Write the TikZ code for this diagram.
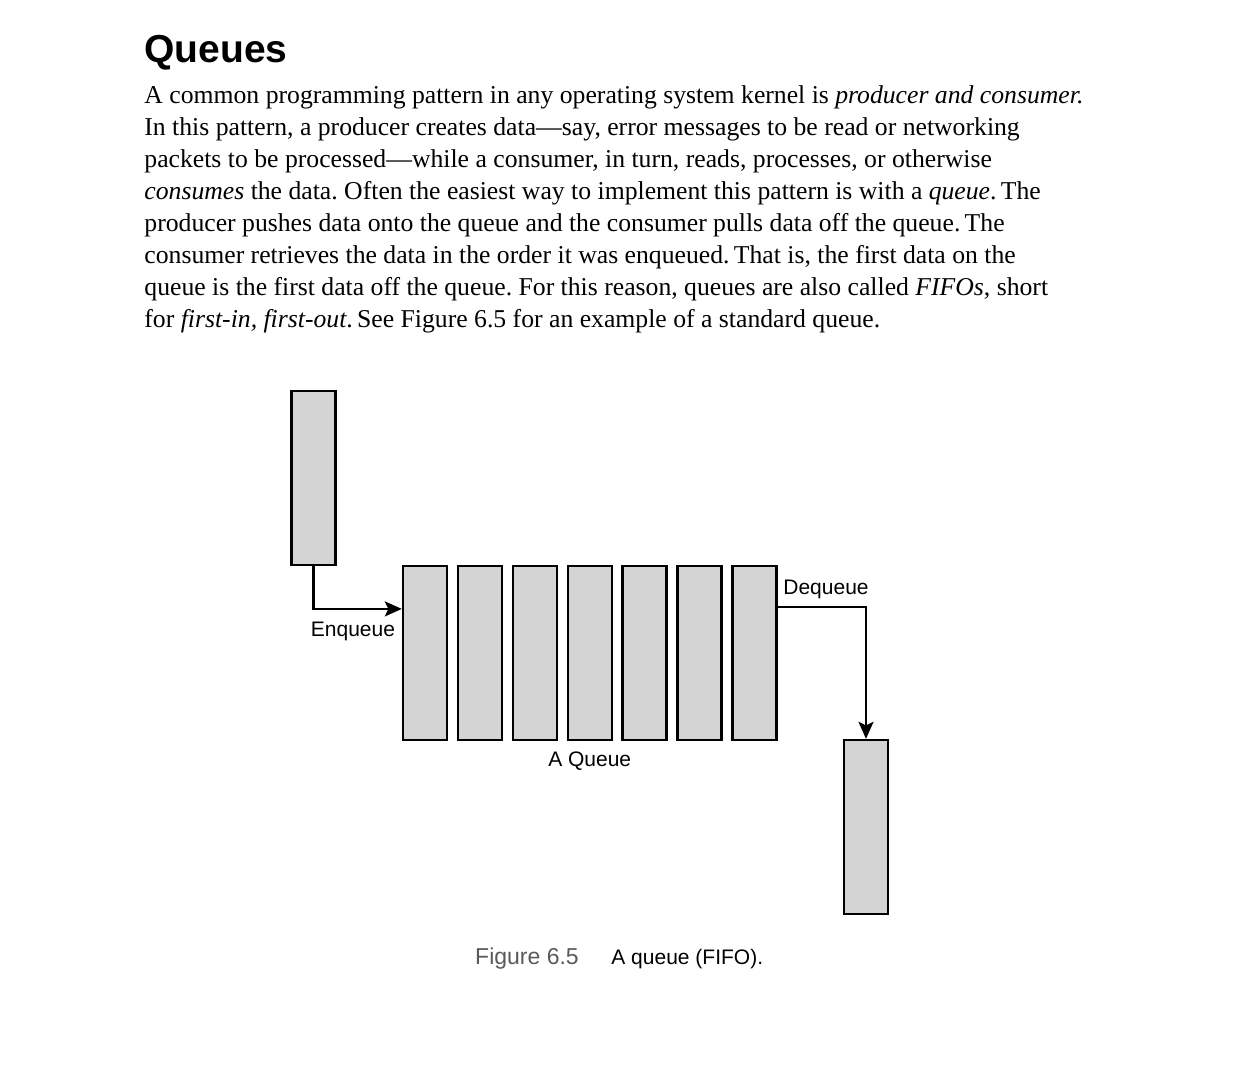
\documentclass[tikz,border=0pt]{standalone}
\usepackage{fontspec}
\setmainfont{Liberation Serif}
\setsansfont{Liberation Sans}
\usetikzlibrary{arrows.meta, positioning, calc}
\definecolor{BoxGray}{rgb}{0.83, 0.83, 0.83}
\definecolor{CaptionGray}{rgb}{0.35, 0.35, 0.35}

\begin{document}
\frenchspacing
\begin{tikzpicture}[
    x=0.5pt, y=-0.5pt,
    item/.style={draw=black, line width=1.2pt, fill=BoxGray, inner sep=0pt,
        minimum width=22pt, minimum height=87pt},
    flow/.style={-{Stealth[length=8.5pt, width=7.5pt, inset=1.8pt]}, line width=1.1pt},
    body/.style={anchor=base west, inner sep=0pt, font=\fontsize{12.85}{16}\selectfont},
    tag/.style={inner sep=0pt, font=\sffamily\fontsize{10.5}{12}\selectfont},
]
\useasboundingbox (0,0) rectangle (1242,1087);

% --- texto de la pagina ---
\node[anchor=base west, inner sep=0pt, font=\sffamily\bfseries\fontsize{19.5}{22}\selectfont]
    (title) at (144,62) {Queues};
\node[body] (l1) at (144,103) {A common programming pattern in any operating system kernel is \textit{producer and consumer.}};
\node[body] (l2) at (144,135) {In this pattern, a producer creates data---say, error messages to be read or networking};
\node[body] (l3) at (144,167) {packets to be processed---while a consumer, in turn, reads, processes, or otherwise};
\node[body] (l4) at (144,199) {\textit{consumes} the data. Often the easiest way to implement this pattern is with a \textit{queue}.\thinspace The};
\node[body] (l5) at (144,231) {producer pushes data onto the queue and the consumer pulls data off the queue.\thinspace The};
\node[body] (l6) at (144,263) {consumer retrieves the data in the order it was enqueued.\thinspace That is, the first data on the};
\node[body] (l7) at (144,295) {queue is the first data off the queue. For this reason, queues are also called \textit{FIFOs}, short};
\node[body] (l8) at (144,327) {for \textit{first-in, first-out}.\thinspace See Figure 6.5 for an example of a standard queue.};

% --- la cola ---
\foreach \i in {1,...,7}{
    \node[item] (q\i) at ({425+54.9*(\i-1)},653) {};
}
\node[tag, below=5pt of q4] (qlabel) {A Queue};

% elemento que entra y elemento que sale
\node[item] (in) at (313.5,478) {};
\node[item] (out) at (866,827) {};

\coordinate (qin) at ($(q1.north west)!0.25!(q1.south west)$);
\coordinate (qout) at ($(q7.north east)!0.24!(q7.south east)$);

\draw[flow] (in.south) |- (qin);
\draw[flow] (qout) -| (out.north);

\node[tag] (enq) at (353,631) {Enqueue};
\node[tag] (deq) at (826,589) {Dequeue};

% --- pie de figura ---
\node[anchor=base, inner sep=0pt, text=CaptionGray, font=\sffamily\fontsize{11.5}{13}\selectfont]
    (fig) at (527,964) {Figure 6.5};
\node[anchor=base west, inner sep=0pt, font=\sffamily\fontsize{10.5}{12}\selectfont]
    (cap) at (611,964) {A queue (FIFO).};
\end{tikzpicture}
\end{document}
